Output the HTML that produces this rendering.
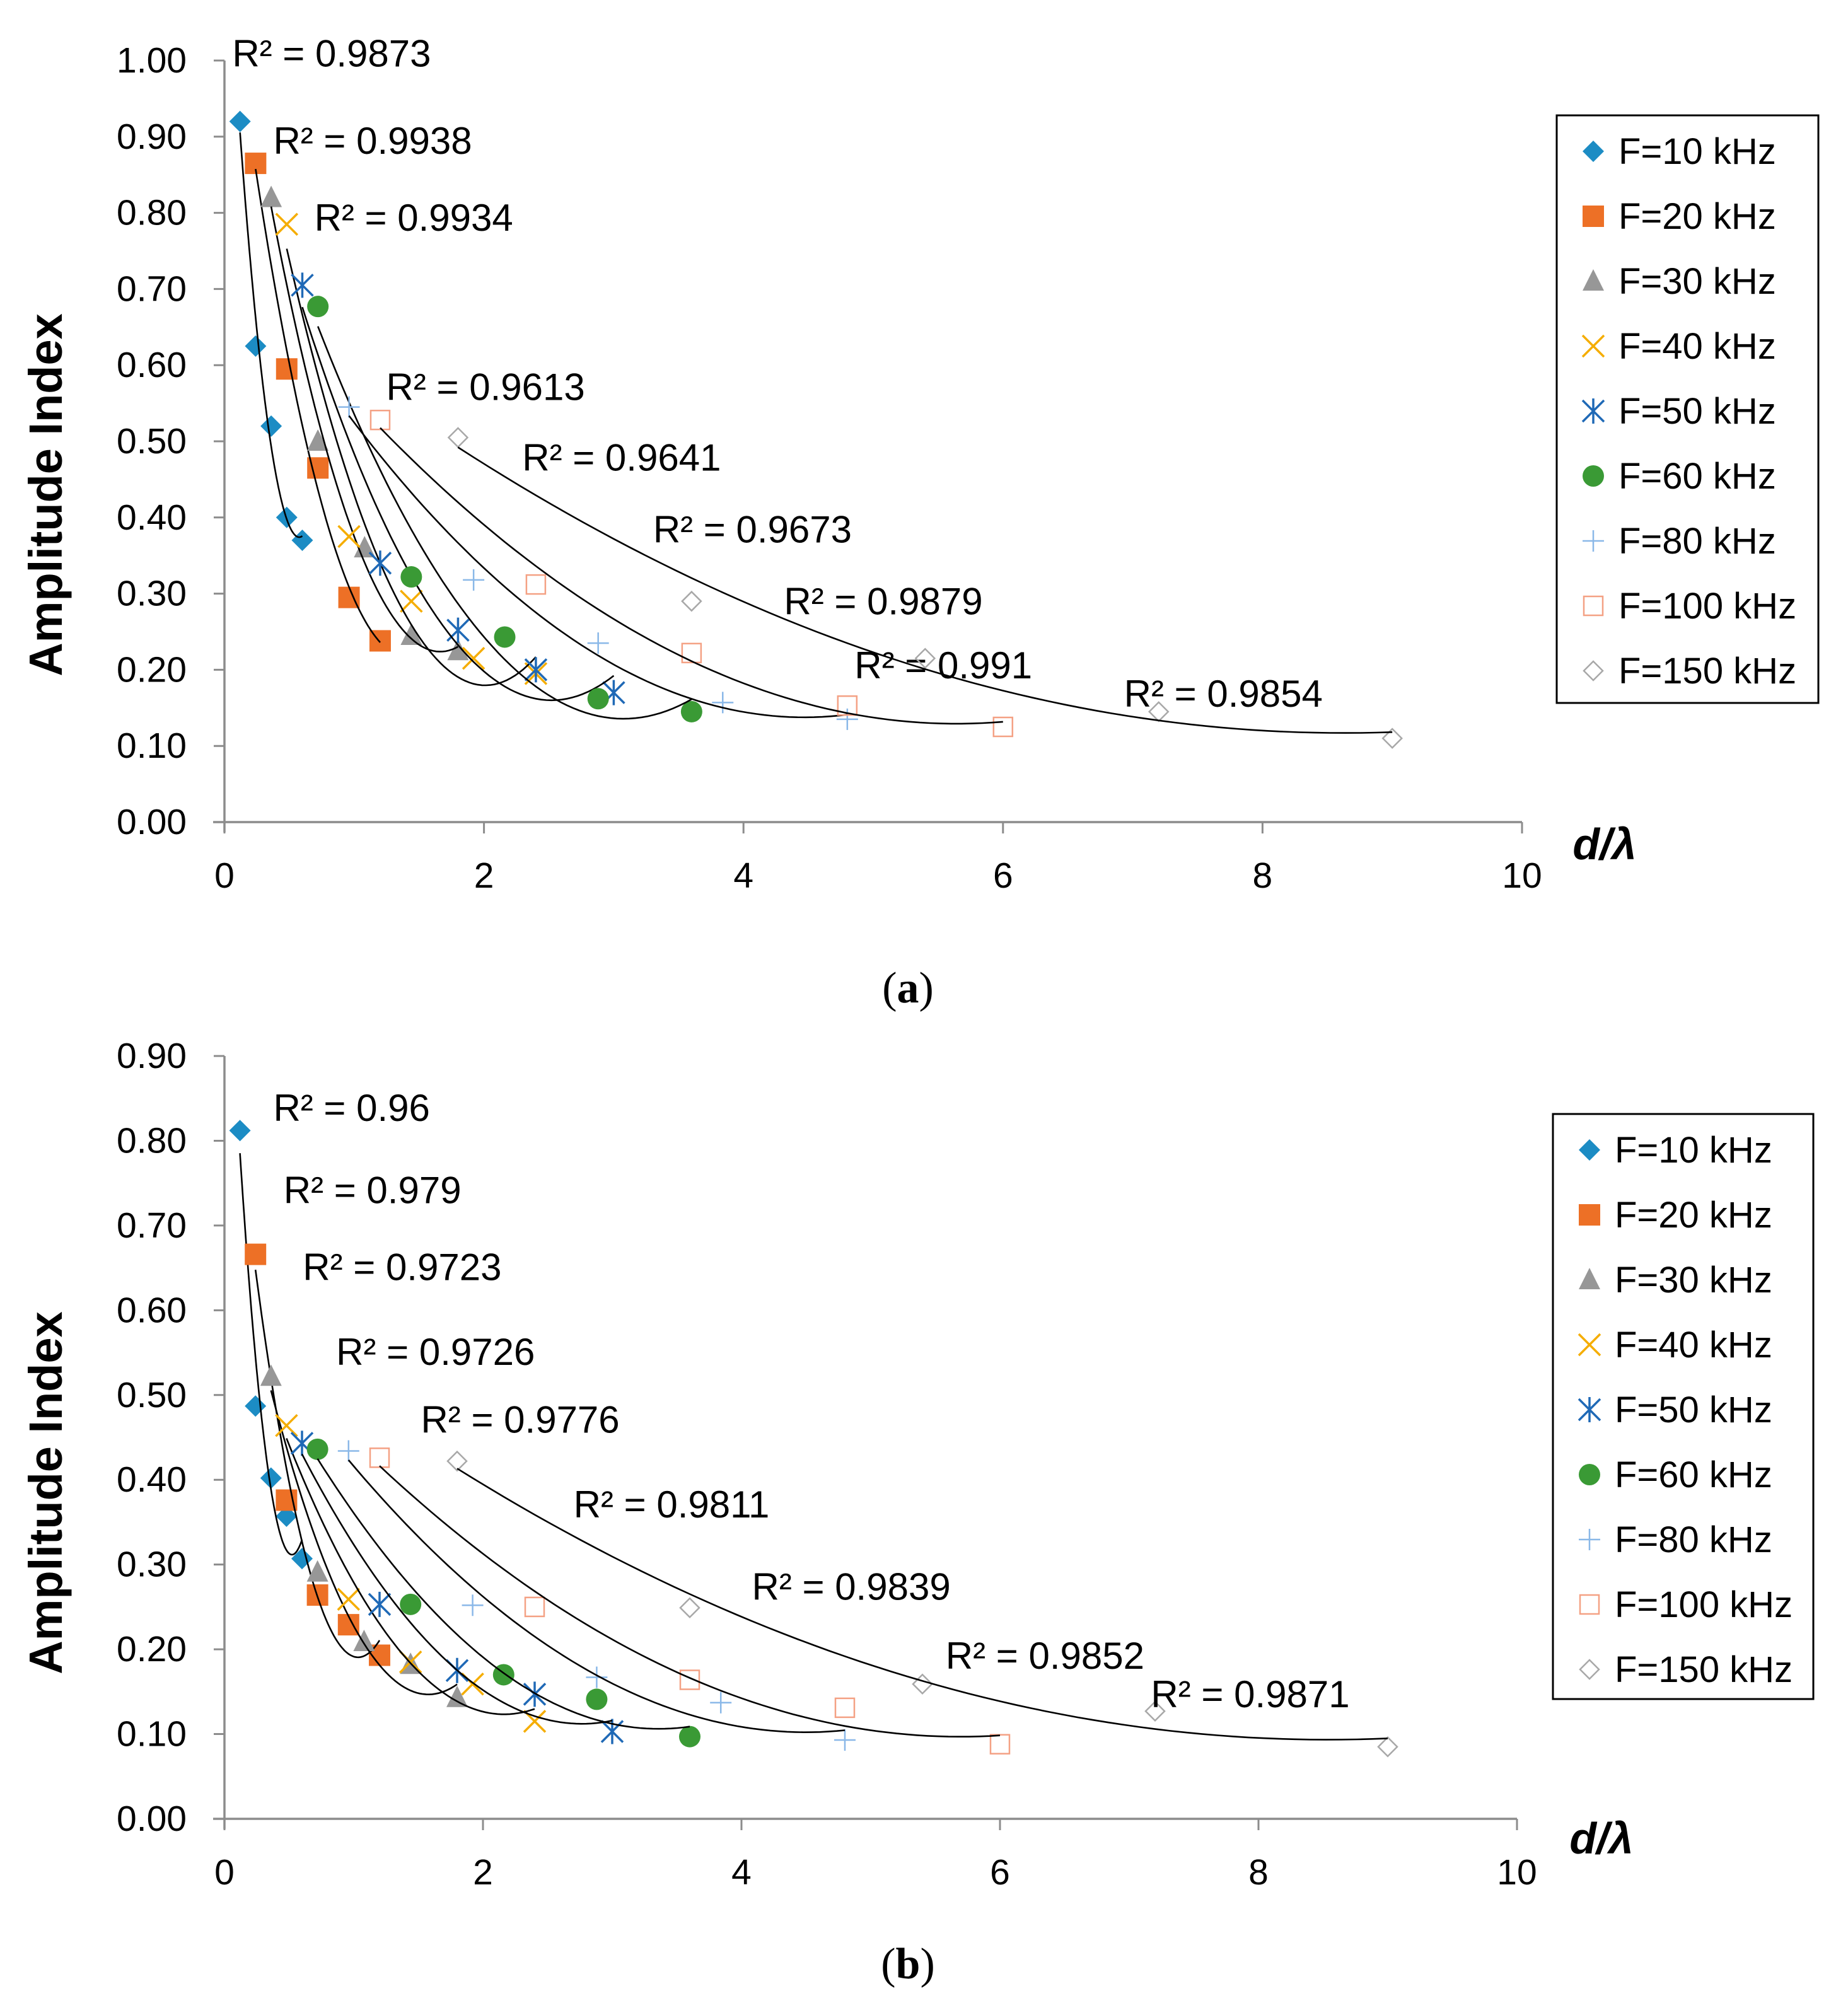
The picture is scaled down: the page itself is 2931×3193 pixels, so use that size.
<!DOCTYPE html>
<html><head><meta charset="utf-8"><style>
html,body{margin:0;padding:0;background:#fff}
svg{display:block}
</style></head><body>
<svg id="svg" width="2931" height="3193" viewBox="0 0 2931 3193" xmlns="http://www.w3.org/2000/svg" font-family="Liberation Sans, sans-serif"></svg>
<script>
// ---- data ----
const seriesNames = ["F=10 kHz","F=20 kHz","F=30 kHz","F=40 kHz","F=50 kHz","F=60 kHz","F=80 kHz","F=100 kHz","F=150 kHz"];
const xA10 = [0.12,0.24,0.36,0.48,0.6];
const xA20 = [0.24,0.48,0.72,0.96,1.2];
const xA30 = [0.36,0.72,1.08,1.44,1.8];
const xA40 = [0.48,0.96,1.44,1.92,2.4];
const xA50 = [0.6,1.2,1.8,2.4,3.0];
const xA60 = [0.72,1.44,2.16,2.88,3.6];
const xA80 = [0.96,1.92,2.88,3.84,4.8];
const xA100 = [1.2,2.4,3.6,4.8,6.0];
const xA150 = [1.8,3.6,5.4,7.2,9.0];
const topY10 = [0.92,0.625,0.52,0.40,0.37];
const topY20 = [0.865,0.595,0.465,0.295,0.238];
const topY30 = [0.82,0.50,0.36,0.245,0.225];
const topY40 = [0.785,0.375,0.29,0.215,0.195];
const topY50 = [0.705,0.34,0.252,0.20,0.17];
const topY60 = [0.677,0.322,0.243,0.162,0.145];
const topY80 = [0.545,0.318,0.235,0.157,0.135];
const topY100 = [0.528,0.312,0.222,0.153,0.125];
const topY150 = [0.505,0.29,0.215,0.145,0.11];
const botY10 = [0.812,0.487,0.402,0.357,0.307];
const botY20 = [0.666,0.376,0.264,0.229,0.193];
const botY30 = [0.522,0.291,0.209,0.182,0.143];
const botY40 = [0.464,0.259,0.185,0.159,0.115];
const botY50 = [0.443,0.253,0.175,0.147,0.103];
const botY60 = [0.436,0.253,0.170,0.141,0.097];
const botY80 = [0.434,0.252,0.167,0.137,0.093];
const botY100 = [0.426,0.250,0.164,0.131,0.088];
const botY150 = [0.422,0.249,0.159,0.127,0.085];
const topR2 = ["0.9873","0.9938","0.9934","0.9613","0.9641","0.9673","0.9879","0.991","0.9854"];
const botR2 = ["0.96","0.979","0.9723","0.9726","0.9776","0.9811","0.9839","0.9852","0.9871"];
const topYTicks = ["0.00","0.10","0.20","0.30","0.40","0.50","0.60","0.70","0.80","0.90","1.00"];
const botYTicks = ["0.00","0.10","0.20","0.30","0.40","0.50","0.60","0.70","0.80","0.90"];
const xTicks = [0,2,4,6,8,10];

const xs = [xA10,xA20,xA30,xA40,xA50,xA60,xA80,xA100,xA150];
const topYs = [topY10,topY20,topY30,topY40,topY50,topY60,topY80,topY100,topY150];
const botYs = [botY10,botY20,botY30,botY40,botY50,botY60,botY80,botY100,botY150];

const S = 2.035;
const NS = "http://www.w3.org/2000/svg";
const svg = document.getElementById('svg');
function el(tag, attrs, parent){const e=document.createElementNS(NS,tag);for(const k in attrs)e.setAttribute(k,attrs[k]);(parent||svg).appendChild(e);return e;}
const colors=["#1c8cc4","#ed7026","#979797","#f5ad00","#1f69b6","#3a9a35","#8ab8e8","#f4a184","#a8a8a8"];

function marker(g,i,cx,cy){
  const c=colors[i], r=17;
  let m;
  if(i===0) m=el('polygon',{points:`${cx},${cy-r} ${cx+r},${cy} ${cx},${cy+r} ${cx-r},${cy}`,fill:c},g);
  else if(i===1) m=el('rect',{x:cx-r,y:cy-r,width:2*r,height:2*r,fill:c},g);
  else if(i===2) m=el('polygon',{points:`${cx},${cy-r-2} ${cx+r},${cy+r-2} ${cx-r},${cy+r-2}`,fill:c},g);
  else if(i===3) m=el('path',{d:`M${cx-r} ${cy-r}L${cx+r} ${cy+r}M${cx+r} ${cy-r}L${cx-r} ${cy+r}`,stroke:c,'stroke-width':3.5,fill:'none'},g);
  else if(i===4) m=el('path',{d:`M${cx-r} ${cy-r}L${cx+r} ${cy+r}M${cx+r} ${cy-r}L${cx-r} ${cy+r}M${cx} ${cy-r-3}L${cx} ${cy+r+3}`,stroke:c,'stroke-width':3.5,fill:'none'},g);
  else if(i===5) m=el('circle',{cx:cx,cy:cy,r:r,fill:c},g);
  else if(i===6) m=el('path',{d:`M${cx-r} ${cy}L${cx+r} ${cy}M${cx} ${cy-r}L${cx} ${cy+r}`,stroke:c,'stroke-width':2.5,fill:'none'},g);
  else if(i===7) m=el('rect',{x:cx-r+2,y:cy-r+2,width:2*r-4,height:2*r-4,fill:'none',stroke:c,'stroke-width':2.5},g);
  else m=el('polygon',{points:`${cx},${cy-r+2} ${cx+r-2},${cy} ${cx},${cy+r-2} ${cx-r+2},${cy}`,fill:'none',stroke:c,'stroke-width':2.5},g);
  
  
  return m;
}

function polyfit(x,y){
  let s=[0,0,0,0,0], t=[0,0,0];
  for(let k=0;k<x.length;k++){let p=1;for(let j=0;j<5;j++){s[j]+=p;if(j<3)t[j]+=p*y[k];p*=x[k];}}
  const A=[[s[0],s[1],s[2],t[0]],[s[1],s[2],s[3],t[1]],[s[2],s[3],s[4],t[2]]];
  for(let i=0;i<3;i++){for(let j=i+1;j<3;j++){const f=A[j][i]/A[i][i];for(let k=i;k<4;k++)A[j][k]-=f*A[i][k];}}
  const c=[0,0,0];
  for(let i=2;i>=0;i--){let v=A[i][3];for(let k=i+1;k<3;k++)v-=A[i][k]*c[k];c[i]=v/A[i][i];}
  return c;
}

function chart(cfg){
  const g=el('g',{});
  
  
  const X=v=>cfg.x0+(cfg.x1-cfg.x0)*v/10;
  const Y=v=>cfg.y0-(cfg.y0-cfg.yTop)*v/cfg.ymax;
  const ya=el('line',{x1:cfg.x0,y1:cfg.yTop,x2:cfg.x0,y2:cfg.y0+16,stroke:'#8c8c8c','stroke-width':3.5},g);
  
  const xa=el('line',{x1:cfg.x0-18,y1:cfg.y0,x2:cfg.x1,y2:cfg.y0,stroke:'#8c8c8c','stroke-width':3.5},g);
  
  cfg.yTicks.forEach((t,i)=>{
    const v=i*0.1, y=Y(v);
    el('line',{x1:cfg.x0-17,y1:y,x2:cfg.x0,y2:y,stroke:'#8c8c8c','stroke-width':3},g);
    const tx=el('text',{x:cfg.x0-60,y:y+19,'text-anchor':'end','font-size':57,fill:'#000'},g);
    tx.textContent=t;
    
  });
  xTicks.forEach(t=>{
    const x=X(t);
    el('line',{x1:x,y1:cfg.y0,x2:x,y2:cfg.y0+18,stroke:'#8c8c8c','stroke-width':3},g);
    const tx=el('text',{x:x,y:cfg.y0+104,'text-anchor':'middle','font-size':57,fill:'#000'},g);
    tx.textContent=t;
    
  });
  const yt=el('text',{x:0,y:0,transform:`translate(${cfg.ytx},${cfg.yty}) rotate(-90)`,'text-anchor':'middle','font-size':74,'font-weight':'bold',fill:'#000'},g);
  yt.textContent='Amplitude Index';
  
  const xt=el('text',{x:cfg.xtx,y:cfg.xty,'text-anchor':'middle','font-size':70,'font-weight':'bold','font-style':'italic',fill:'#000'},g);
  xt.textContent='d/λ';
  
  cfg.ys.forEach((yy,i)=>{
    const sg=el('g',{},g);
    
    
    const xv=xs[i];
    xv.forEach((x,k)=>marker(sg,i,X(x),Y(yy[k])));
    const c=polyfit(xv,yy);
    let d='';const a=xv[0],b=xv[xv.length-1];
    for(let k=0;k<=60;k++){const x=a+(b-a)*k/60;const v=c[0]+c[1]*x+c[2]*x*x;d+=(k?'L':'M')+X(x).toFixed(1)+' '+Y(v).toFixed(1);}
    const p=el('path',{d:d,fill:'none',stroke:'#000','stroke-width':2.6},sg);
    
    const lp=cfg.r2pos[i];
    const t=el('text',{x:lp[0]*S,y:lp[1]*S+20,'font-size':60,fill:'#000'},sg);
    t.textContent='R² = '+cfg.r2[i];
    
  });
  const lg=el('g',{},g);
  
  const L=cfg.leg;
  el('rect',{x:L[0],y:L[1],width:L[2],height:L[3],fill:'#fff',stroke:'#000','stroke-width':3},lg);
  seriesNames.forEach((n,i)=>{
    const cy=L[1]+57+i*103;
    const eg=el('g',{},lg);
    
    marker(eg,i,L[0]+58,cy);
    const t=el('text',{x:L[0]+98,y:cy+20,'font-size':58,fill:'#000'},eg);
    t.textContent=n;
  });
  const cap=el('text',{x:1440,y:cfg.capY,'text-anchor':'middle','font-size':70,'font-family':'Liberation Serif, serif',fill:'#000'},g);
  cap.innerHTML='(<tspan font-weight="bold">'+cfg.cap+'</tspan>)';
  
}

chart({name:'chart-a',x0:356,x1:2414,y0:1304,yTop:96,ymax:1.0,yTicks:topYTicks,ys:topYs,r2:topR2,
  r2pos:[[181,42],[213,110],[245,170],[301,302],[407,357],[509,413],[611,469],[666,519],[876,541]],
  leg:[2469,183,415,932],ytx:98,yty:785,xtx:2545,xty:1363,capY:1590,cap:'a'});
chart({name:'chart-b',x0:356,x1:2406,y0:2885,yTop:1675,ymax:0.9,yTicks:botYTicks,ys:botYs,r2:botR2,
  r2pos:[[213,864],[221,928],[236,988],[262,1054],[328,1107],[447,1173],[586,1237],[737,1291],[897,1321]],
  leg:[2463,1767,413,928],ytx:98,yty:2368,xtx:2540,xty:2940,capY:3138,cap:'b'});
</script>
</body></html>
